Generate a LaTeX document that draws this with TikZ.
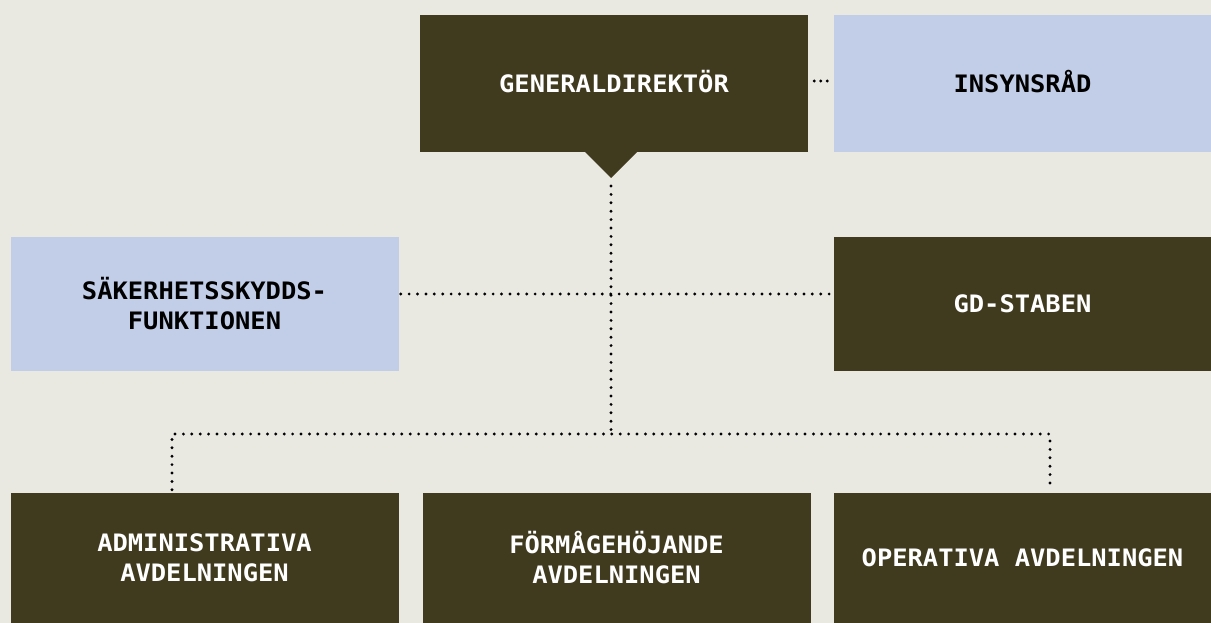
\documentclass[tikz,border=0pt]{standalone}
\usepackage{fontspec}
\newfontfamily\orgfont{DejaVu Sans Mono}[FakeStretch=1.06]
\definecolor{orgbg}{HTML}{EAE9E1}
\definecolor{orgdark}{HTML}{403A1F}
\definecolor{orglight}{HTML}{C2CEE7}

\begin{document}
\begin{tikzpicture}[x=1pt, y=-1pt,
    unit/.style = {inner sep=0pt, align=center, font=\orgfont\bfseries\fontsize{24}{30}\selectfont},
    dark/.style = {unit, fill=orgdark, text=white},
    light/.style = {unit, fill=orglight, text=black},
    caps/.style = {text height=17.5pt, text depth=0pt},
    link/.style = {line width=3.2pt, line cap=round, dash pattern=on 0pt off 8.4pt} ]
        \fill[orgbg] (0, 0) rectangle (1211, 623);
        \useasboundingbox (0, 0) rectangle (1211, 623);

        \node at (614, 83.5) [dark, caps, minimum width=388pt, minimum height=137pt] (gd) {GENERALDIREKTÖR};
        \node at (1022.5, 83.5) [light, caps, minimum width=377pt, minimum height=137pt] (insyn) {INSYNSRÅD};
        \node at (204.5, 304) [light, minimum width=388pt, minimum height=134pt] (sak) {SÄKERHETSSKYDDS-\\FUNKTIONEN};
        \node at (1022.5, 304) [dark, minimum width=377pt, minimum height=134pt] (staben) {GD-STABEN};
        \node at (204.5, 558) [dark, minimum width=388pt, minimum height=130pt] (adm) {ADMINISTRATIVA\\AVDELNINGEN};
        \node at (616.5, 558) [dark, minimum width=388pt, minimum height=130pt] (form) {FÖRMÅGEHÖJANDE\\AVDELNINGEN};
        \node at (1022.5, 558) [dark, minimum width=377pt, minimum height=130pt] (oper) {OPERATIVA AVDELNINGEN};

        \fill[orgdark] (585, 152) -- (637, 152) -- (611, 178) -- cycle;
        \coordinate (tip) at (611, 186);
        \coordinate (hub) at (611, 434);
        \coordinate (left) at (172, 434);
        \coordinate (right) at (1050, 434);

        \draw[link, dash pattern=on 0pt off 6.5pt, shorten <=6pt, shorten >=6pt] (gd.east |- 0, 81) -- (insyn.west |- 0, 81);
        \draw[link, shorten <=2pt, shorten >=2pt] (sak.east |- 0, 294) -- (staben.west |- 0, 294);
        \draw[link] (tip) -- (hub);
        \draw[link] (adm.north -| left) ++(0, -3) -- (left) -- (right) -- ([yshift=3pt]oper.north -| right);

    \end{tikzpicture}
\end{document}
